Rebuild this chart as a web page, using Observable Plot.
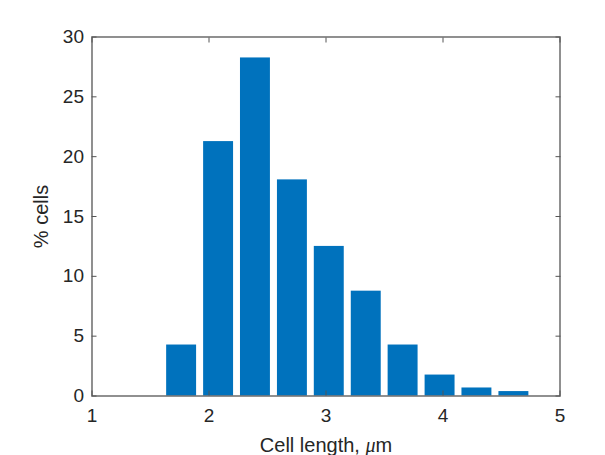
<!DOCTYPE html>
<html>
<head>
<meta charset="utf-8">
<script src="https://cdn.jsdelivr.net/npm/d3@7"></script>
<script src="https://cdn.jsdelivr.net/npm/@observablehq/plot@0.6"></script>
<style>
  html, body { margin: 0; padding: 0; background: #ffffff; }
  #chart { width: 605px; height: 455px; }
  #chart svg text { font-size: 19px; fill: #262626; }
</style>
</head>
<body>
<div id="chart"></div>
<script>
// Bin centers (µm) and percentage of cells per bin
const binCenters = [1.766, 2.082, 2.397, 2.713, 3.028, 3.344, 3.659, 3.975, 4.290, 4.606];
const percentCells = [4.26, 21.26, 28.25, 18.06, 12.5, 8.76, 4.26, 1.75, 0.67, 0.37];
const xTicks = [1, 2, 3, 4, 5];
const yTicks = [0, 5, 10, 15, 20, 25, 30];
const xLabel = "Cell length, μm";
const yLabel = "% cells";

const binStep = binCenters[1] - binCenters[0];
const barFrac = 0.81;
const data = binCenters.map((c, i) => ({
  x1: c - binStep * barFrac / 2,
  x2: c + binStep * barFrac / 2,
  y: percentCells[i]
}));

const axisColor = "#555555";
const textColor = "#262626";

const chart = Plot.plot({
  width: 605,
  height: 455,
  marginLeft: 91.5,
  marginRight: 45.5,
  marginTop: 36.5,
  marginBottom: 59.5,
  style: { fontFamily: "'Liberation Sans', Arial, sans-serif", color: textColor, background: "#ffffff" },
  x: { domain: [1, 5] },
  y: { domain: [0, 30] },
  marks: [
    Plot.rectY(data, { x1: "x1", x2: "x2", y: "y", fill: "#0072BD" }),
    Plot.frame({ stroke: axisColor, strokeWidth: 1.3 }),
    // tick labels and axis titles
    Plot.axisX({ ticks: xTicks, tickSize: 0, tickPadding: 12, tickFormat: d => d, label: xLabel, labelAnchor: "center", labelArrow: false, labelOffset: 56 }),
    Plot.axisY({ ticks: yTicks, tickSize: 0, tickPadding: 8, tickFormat: d => d, label: yLabel, labelAnchor: "center", labelArrow: false, labelOffset: 58 }),
    // inward ticks on all four sides
    Plot.axisX({ ticks: xTicks, anchor: "bottom", tickSize: -5, text: null, label: null, stroke: axisColor }),
    Plot.axisX({ ticks: xTicks, anchor: "top", tickSize: -5, text: null, label: null, stroke: axisColor }),
    Plot.axisY({ ticks: yTicks, anchor: "left", tickSize: -5, text: null, label: null, stroke: axisColor }),
    Plot.axisY({ ticks: yTicks, anchor: "right", tickSize: -5, text: null, label: null, stroke: axisColor })
  ]
});

document.getElementById("chart").appendChild(chart);

// italicize the µ in the x label and size the axis titles
d3.select(chart).selectAll("text").each(function () {
  const t = d3.select(this);
  if (t.text() === xLabel) {
    const parts = xLabel.split("μ");
    t.text(null);
    t.append("tspan").text(parts[0]);
    t.append("tspan").attr("font-style", "italic").attr("font-family", "'Liberation Serif', serif").text("μ");
    t.append("tspan").text(parts[1]);
    t.style("font-size", "20px");
  } else if (t.text() === yLabel) {
    t.style("font-size", "20px");
  }
});
</script>
</body>
</html>
